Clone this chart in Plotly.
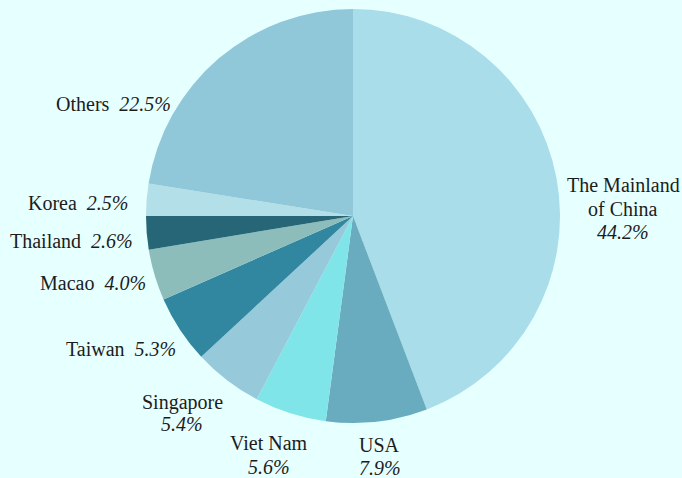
import plotly.graph_objects as go

W, H = 682, 478

labels = ["The Mainland of China", "USA", "Viet Nam", "Singapore", "Taiwan",
          "Macao", "Thailand", "Korea", "Others"]
values = [44.2, 7.9, 5.6, 5.4, 5.3, 4.0, 2.6, 2.5, 22.5]
colors = ["#A8DDE9", "#69ACBF", "#7FE5E8", "#96CADB", "#3186A0",
          "#8DBDBB", "#266677", "#B3DFE8", "#90C8DA"]

# label layout (pixel positions of label text), layout only
# kind: "side" -> one line "Name  pct" right-aligned at x; "stack" -> name lines then pct centered at x
label_layout = {
    "The Mainland of China": ("stack", 623, [185, 209, 232], ["The Mainland", "of China"]),
    "USA": ("stack", 380, [445, 468], ["USA"]),
    "Viet Nam": ("stack", 269, [443, 467], ["Viet Nam"]),
    "Singapore": ("stack", 182, [402, 424], ["Singapore"]),
    "Taiwan": ("side", 178, [349], None),
    "Macao": ("side", 148, [283], None),
    "Thailand": ("side", 135, [241], None),
    "Korea": ("side", 131, [203], None),
    "Others": ("side", 173, [104], None),
}

font = dict(family="Liberation Serif", size=20, color="#1c1c1c")

fig = go.Figure(go.Pie(
    labels=labels, values=values, sort=False, direction="clockwise", rotation=0,
    marker=dict(colors=colors, line=dict(width=0)),
    textinfo="none", showlegend=False, hoverinfo="label+percent",
    domain=dict(x=[146 / W, 560 / W], y=[(H - 423) / H, (H - 9) / H]),
))

annotations = []
for lab, val in zip(labels, values):
    kind, x, ys, names = label_layout[lab]
    pct = f"<i>{val:.1f}%</i>"
    if kind == "side":
        annotations.append(dict(
            text=f"{lab}&nbsp;&nbsp;{pct}", x=x / W, y=(H - ys[0]) / H,
            xref="paper", yref="paper", xanchor="right", yanchor="middle",
            showarrow=False, font=font))
    else:
        lines = names + [pct]
        for line, yy in zip(lines, ys):
            annotations.append(dict(
                text=line, x=x / W, y=(H - yy) / H,
                xref="paper", yref="paper", xanchor="center", yanchor="middle",
                showarrow=False, font=font))

fig.update_layout(
    width=W, height=H,
    margin=dict(l=0, r=0, t=0, b=0, autoexpand=False),
    paper_bgcolor="#E6FFFF", plot_bgcolor="#E6FFFF",
    annotations=annotations,
)
fig.write_html(
    "out.html",
    config={"displayModeBar": False},
    post_script="document.body.style.margin='0';document.body.style.overflow='hidden';"
                "document.body.style.background='#E6FFFF';",
)
